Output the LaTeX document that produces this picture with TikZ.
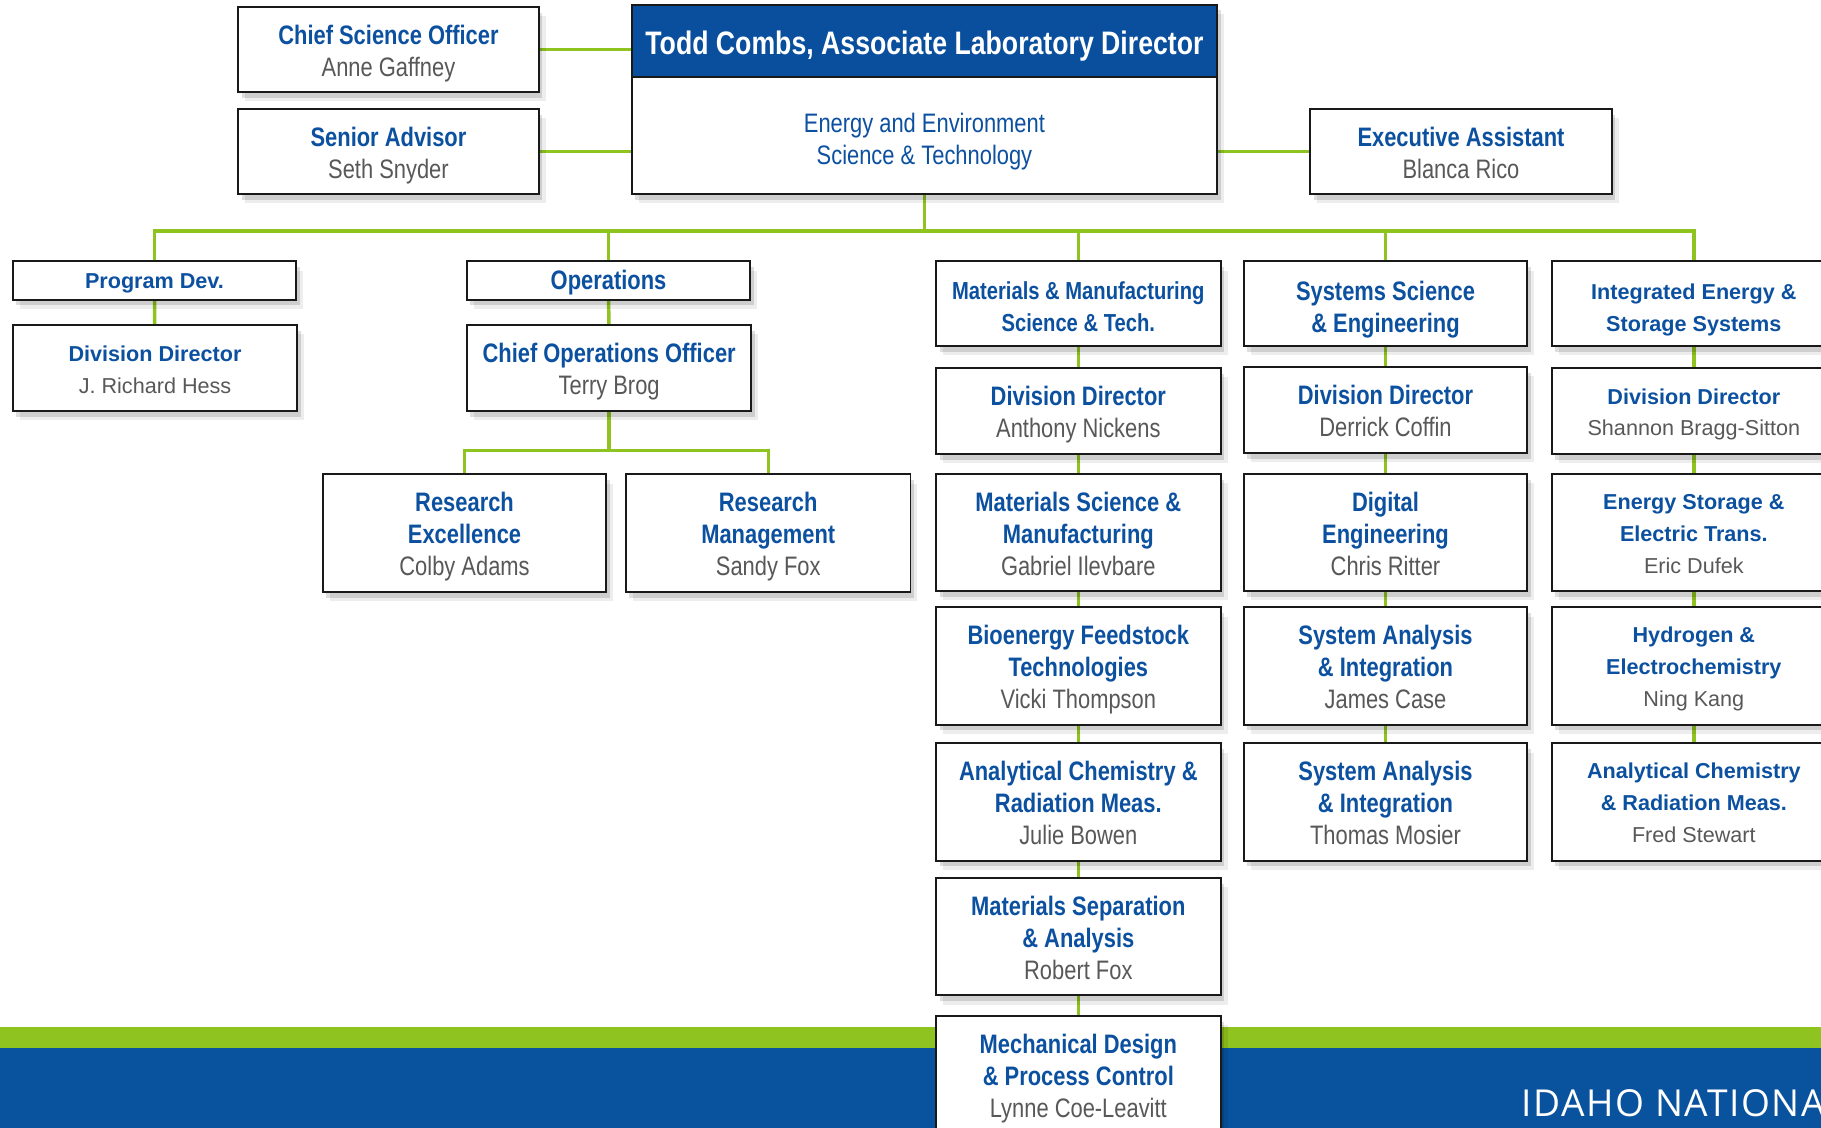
\documentclass[tikz,border=0pt]{standalone}
\usepackage{fontspec}
\setmainfont{Liberation Sans}
\newfontfamily\narrowfont{Liberation Sans}[FakeStretch=0.82]
\newfontfamily\bandfont{Open Sans}[LetterSpace=4]
\usetikzlibrary{shadows}
\pgfdeclarelayer{bandlayer}
\pgfdeclarelayer{linelayer}
\pgfsetlayers{bandlayer,linelayer,main}
\definecolor{inlblue}{RGB}{10,79,157}
\definecolor{bandblue}{RGB}{8,82,158}
\definecolor{txtblue}{RGB}{12,80,160}
\definecolor{inlgreen}{RGB}{143,195,31}
\definecolor{namegray}{RGB}{88,88,88}
\definecolor{boxline}{RGB}{25,25,25}
\newcommand{\LS}{}
\newcommand{\FS}{}
\newcommand{\FSH}{}
\newcommand{\BoxHead}[1]{{\FSH\LS\color{txtblue}\bfseries #1}}
\newcommand{\BoxTop}[1]{{\FS\LS\color{txtblue}\bfseries #1}}
\newcommand{\BoxTitle}[1]{{\LS\color{txtblue}\bfseries #1}}
\newcommand{\BoxName}[1]{{\LS\color{namegray}#1}}
\tikzset{
  box/.style={draw=boxline, line width=1.6pt, fill=white, inner sep=0pt, align=center,
    drop shadow={shadow xshift=6pt, shadow yshift=-8pt, opacity=0.07, fill=black},
    drop shadow={shadow xshift=3pt, shadow yshift=-5pt, opacity=0.13, fill=black}},
  nar/.style={font={\narrowfont\fontsize{23}{27.5}\selectfont
    \def\LS{\rule[-5.55pt]{0pt}{27.5pt}}\def\FS{\rule{0pt}{23.95pt}}\def\FSH{\rule{0pt}{26.95pt}}}},
  narsm/.style={font={\narrowfont\fontsize{21.2}{27.5}\selectfont
    \def\LS{\rule[-6.2pt]{0pt}{27.5pt}}\def\FS{\rule{0pt}{23.3pt}}\def\FSH{\rule{0pt}{26.8pt}}}},
  reg/.style={font={\fontsize{18.6}{27.5}\selectfont
    \def\LS{\rule[-7.1pt]{0pt}{27.5pt}}\def\FS{\rule{0pt}{22.4pt}}\def\FSH{\rule{0pt}{27.4pt}}}},
  wA/.style={minimum width=245pt},
  h2/.style={minimum height=74pt},
  h3/.style={minimum height=101pt},
  conn/.style={draw=inlgreen, line width=3pt},
}
\begin{document}
\begin{tikzpicture}[x=1pt,y=-1pt]
\useasboundingbox (0,0) rectangle (1568,971);
\begin{pgfonlayer}{bandlayer}
  \fill[white] (0,0) rectangle (1568,971);
  \fill[inlgreen] (0,884) rectangle (1568,902);
  \fill[bandblue] (0,902) rectangle (1568,971);
\end{pgfonlayer}

% top row
\node[box,nar,minimum width=259pt,minimum height=73pt] (cso) at (334.5,42.5)
  {\BoxTop{Chief Science Officer}\\\BoxName{Anne Gaffney}};
\node[box,nar,minimum width=259pt,minimum height=73pt] (sa) at (334.5,130.5)
  {\BoxTop{Senior Advisor}\\\BoxName{Seth Snyder}};
\node[box,minimum width=504pt,minimum height=163pt] (mainbox) at (796,85.5) {};
\node[draw=boxline,line width=1.6pt,fill=inlblue,inner sep=0pt,minimum width=504pt,minimum height=62pt,
  text height=24pt,text depth=0pt,
  text=white,font=\narrowfont\bfseries\fontsize{28}{32}\selectfont] (mainhead) at (796,35)
  {Todd Combs, Associate Laboratory Director};
\node[nar,align=center,text=txtblue,inner sep=0pt] (mainbody) at (796,120)
  {\LS Energy and Environment\\\LS Science \& Technology};
\node[box,nar,minimum width=260pt,minimum height=73pt] (ea) at (1258,130.5)
  {\BoxTop{Executive Assistant}\\\BoxName{Blanca Rico}};

% program dev
\node[box,reg,minimum width=244pt,minimum height=33pt] (pd) at (133,241.5)
  {\BoxTitle{Program Dev.}};
\node[box,reg,wA,h2] (pdd) at (133.5,317)
  {\BoxTop{Division Director}\\\BoxName{J. Richard Hess}};

% operations
\node[box,nar,minimum width=244pt,minimum height=33pt] (ops) at (524,241.5)
  {\BoxTitle{Operations}};
\node[box,nar,wA,h2] (coo) at (524.5,317)
  {\BoxTop{Chief Operations Officer}\\\BoxName{Terry Brog}};
\node[box,nar,minimum width=244pt,h3] (rex) at (400,459)
  {\BoxTop{Research}\\\BoxTitle{Excellence}\\\BoxName{Colby Adams}};
\node[box,nar,wA,h3] (rmg) at (661.5,459)
  {\BoxTop{Research}\\\BoxTitle{Management}\\\BoxName{Sandy Fox}};

% column A
\node[box,narsm,wA,minimum height=73pt] (a0) at (928.5,261.5)
  {\BoxHead{Materials \& Manufacturing}\\\BoxTitle{Science \& Tech.}};
\node[box,nar,wA,h2] (a1) at (928.5,354)
  {\BoxTop{Division Director}\\\BoxName{Anthony Nickens}};
\node[box,nar,wA,h3] (a2) at (928.5,458.5)
  {\BoxTop{Materials Science \&}\\\BoxTitle{Manufacturing}\\\BoxName{Gabriel Ilevbare}};
\node[box,nar,wA,h3] (a3) at (928.5,573.5)
  {\BoxTop{Bioenergy Feedstock}\\\BoxTitle{Technologies}\\\BoxName{Vicki Thompson}};
\node[box,nar,wA,h3] (a4) at (928.5,690.5)
  {\BoxTop{Analytical Chemistry \&}\\\BoxTitle{Radiation Meas.}\\\BoxName{Julie Bowen}};
\node[box,nar,wA,h3] (a5) at (928.5,806.5)
  {\BoxTop{Materials Separation}\\\BoxTitle{\& Analysis}\\\BoxName{Robert Fox}};
\node[box,nar,wA,h3] (a6) at (928.5,925.5)
  {\BoxTop{Mechanical Design}\\\BoxTitle{\& Process Control}\\\BoxName{Lynne Coe-Leavitt}};

% column B
\node[box,nar,minimum width=244pt,minimum height=73pt] (b0) at (1193,261.5)
  {\BoxHead{Systems Science}\\\BoxTitle{\& Engineering}};
\node[box,nar,minimum width=244pt,h2] (b1) at (1193,353)
  {\BoxTop{Division Director}\\\BoxName{Derrick Coffin}};
\node[box,nar,minimum width=244pt,h3] (b2) at (1193,458.5)
  {\BoxTop{Digital}\\\BoxTitle{Engineering}\\\BoxName{Chris Ritter}};
\node[box,nar,minimum width=244pt,h3] (b3) at (1193,573.5)
  {\BoxTop{System Analysis}\\\BoxTitle{\& Integration}\\\BoxName{James Case}};
\node[box,nar,minimum width=244pt,h3] (b4) at (1193,690.5)
  {\BoxTop{System Analysis}\\\BoxTitle{\& Integration}\\\BoxName{Thomas Mosier}};

% column C
\node[box,reg,wA,minimum height=73pt] (c0) at (1458.5,261.5)
  {\BoxHead{Integrated Energy \&}\\\BoxTitle{Storage Systems}};
\node[box,reg,wA,h2] (c1) at (1458.5,354)
  {\BoxTop{Division Director}\\\BoxName{Shannon Bragg-Sitton}};
\node[box,reg,wA,h3] (c2) at (1458.5,458.5)
  {\BoxTop{Energy Storage \&}\\\BoxTitle{Electric Trans.}\\\BoxName{Eric Dufek}};
\node[box,reg,wA,h3] (c3) at (1458.5,573.5)
  {\BoxTop{Hydrogen \&}\\\BoxTitle{Electrochemistry}\\\BoxName{Ning Kang}};
\node[box,reg,wA,h3] (c4) at (1458.5,690.5)
  {\BoxTop{Analytical Chemistry}\\\BoxTitle{\& Radiation Meas.}\\\BoxName{Fred Stewart}};

% footer text
\node[anchor=base west,inner sep=0pt,text=white,font=\bandfont\fontsize{32}{36}\selectfont] (inl) at (1310,961.5)
  {IDAHO NATIONA};

% connectors
\coordinate (bus) at (796,199);
\coordinate (obus) at (524.5,388);
\begin{pgfonlayer}{linelayer}
  \draw[conn] (cso.east) -- (cso.east -| mainbox.west);
  \draw[conn] (sa.east) -- (sa.east -| mainbox.west);
  \draw[conn] (ea.west) -- (ea.west -| mainbox.east);
  \draw[conn] (mainbox.south) -- (bus);
  \draw[conn] (pd.north) |- (bus) -| (c0.north);
  \draw[conn] (ops.north) -- (ops.north |- bus);
  \draw[conn] (a0.north) -- (a0.north |- bus);
  \draw[conn] (b0.north) -- (b0.north |- bus);
  \draw[conn] (pd) -- (pdd);
  \draw[conn] (ops) -- (coo);
  \draw[conn] (coo.south) -- (obus);
  \draw[conn] (rex.north) |- (obus) -| (rmg.north);
  \draw[conn] (a0) -- (a1);
  \draw[conn] (a1) -- (a2);
  \draw[conn] (a2) -- (a3);
  \draw[conn] (a3) -- (a4);
  \draw[conn] (a4) -- (a5);
  \draw[conn] (a5) -- (a6);
  \draw[conn] (b0) -- (b1);
  \draw[conn] (b1) -- (b2);
  \draw[conn] (b2) -- (b3);
  \draw[conn] (b3) -- (b4);
  \draw[conn] (c0) -- (c1);
  \draw[conn] (c1) -- (c2);
  \draw[conn] (c2) -- (c3);
  \draw[conn] (c3) -- (c4);
\end{pgfonlayer}
\end{tikzpicture}
\end{document}
